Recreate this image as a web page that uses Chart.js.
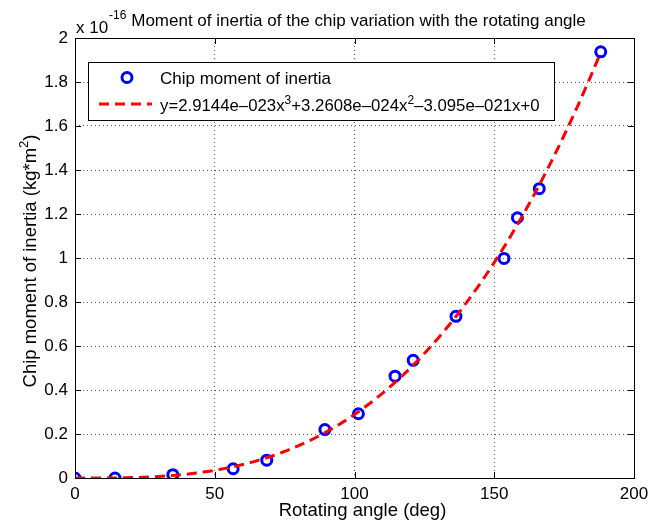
<!DOCTYPE html>
<html>
<head>
<meta charset="utf-8">
<script src="https://cdn.jsdelivr.net/npm/chart.js@4.4.1/dist/chart.umd.min.js"></script>
<style>
  html, body { margin: 0; padding: 0; background: #fff; }
  canvas { display: block; }
</style>
</head>
<body>
<canvas id="inertiaChart" width="664" height="524"></canvas>
<script>
// measured chip moment of inertia (units of 1e-16 kg*m^2) vs rotating angle (deg)
const angles = [0, 14.3, 35.0, 56.6, 68.6, 89.4, 101.4, 114.5, 121.0, 136.3, 153.5, 158.3, 166.1, 188.1];
const inertia = [0, 0, 0.015, 0.042, 0.081, 0.22, 0.292, 0.463, 0.535, 0.735, 0.998, 1.183, 1.315, 1.937];

// cubic fit coefficients (x^3, x^2, x, 1) in kg*m^2
const fitCoef = [2.9144e-23, 3.2608e-24, -3.095e-21, 0];
const yExponent = -16;

const xTicks = [0, 50, 100, 150, 200];
const yTicks = [0, 0.2, 0.4, 0.6, 0.8, 1, 1.2, 1.4, 1.6, 1.8, 2];

const FONT = '"Liberation Sans", Arial, Helvetica, sans-serif';

// evaluate the fitted polynomial over the measured range, scaled like the axis
const fitLine = [];
const xLast = angles[angles.length - 1];
for (let x = 0; x <= xLast; x += 2) {
  fitLine.push({x: x, y: polyVal(x)});
}
fitLine.push({x: xLast, y: polyVal(xLast)});

function polyVal(x) {
  const v = fitCoef[0] * x * x * x + fitCoef[1] * x * x + fitCoef[2] * x + fitCoef[3];
  return v / Math.pow(10, yExponent);
}

const points = angles.map((a, i) => ({x: a, y: inertia[i]}));

// text with an optional superscript piece, drawn left to right from x
function drawRich(ctx, parts, x, y, size) {
  for (const p of parts) {
    if (p.sup) {
      ctx.font = Math.round(size * 0.7) + 'px ' + FONT;
      ctx.fillText(p.sup, x, y - size * 0.42);
      x += ctx.measureText(p.sup).width;
    } else {
      ctx.font = size + 'px ' + FONT;
      ctx.fillText(p.t, x, y);
      x += ctx.measureText(p.t).width;
    }
  }
  return x;
}
function richWidth(ctx, parts, size) {
  let w = 0;
  for (const p of parts) {
    ctx.font = (p.sup ? Math.round(size * 0.7) : size) + 'px ' + FONT;
    w += ctx.measureText(p.sup || p.t).width;
  }
  return w;
}

const matlabFrame = {
  id: 'matlabFrame',
  afterDatasetsDraw(chart) {
    const {ctx, chartArea: a, scales} = chart;
    ctx.save();
    ctx.strokeStyle = '#000';
    ctx.lineWidth = 1;
    // box
    ctx.strokeRect(Math.round(a.left) + 0.5, Math.round(a.top) + 0.5,
      Math.round(a.right - a.left), Math.round(a.bottom - a.top));
    // inward ticks on all four sides
    const tl = 6;
    ctx.beginPath();
    xTicks.forEach(v => {
      const px = Math.round(scales.x.getPixelForValue(v)) + 0.5;
      ctx.moveTo(px, a.bottom); ctx.lineTo(px, a.bottom - tl);
      ctx.moveTo(px, a.top); ctx.lineTo(px, a.top + tl);
    });
    yTicks.forEach(v => {
      const py = Math.round(scales.y.getPixelForValue(v)) + 0.5;
      ctx.moveTo(a.left, py); ctx.lineTo(a.left + tl, py);
      ctx.moveTo(a.right, py); ctx.lineTo(a.right - tl, py);
    });
    ctx.stroke();
    ctx.restore();
  },
  afterDraw(chart) {
    const {ctx, chartArea: a} = chart;
    ctx.save();
    ctx.fillStyle = '#000';
    ctx.textBaseline = 'alphabetic';

    // title
    ctx.font = '17px ' + FONT;
    ctx.textAlign = 'center';
    ctx.fillText('Moment of inertia of the chip variation with the rotating angle',
      (a.left + a.right) / 2 + 4, 26);

    // axis exponent
    ctx.textAlign = 'left';
    drawRich(ctx, [{t: 'x 10'}], 76, 33, 17);
    ctx.font = '12px ' + FONT;
    ctx.fillText(String(yExponent), 109, 19);

    // x axis title
    ctx.font = '18.5px ' + FONT;
    ctx.textAlign = 'center';
    ctx.fillText('Rotating angle (deg)', (a.left + a.right) / 2 + 8, 516);

    // y axis title (rotated)
    const yParts = [{t: 'Chip moment of inertia (kg*m'}, {sup: '2'}, {t: ')'}];
    const yw = richWidth(ctx, yParts, 18.5);
    ctx.save();
    ctx.translate(36, 261);
    ctx.rotate(-Math.PI / 2);
    ctx.textAlign = 'left';
    drawRich(ctx, yParts, -yw / 2, 0, 18.5);
    ctx.restore();

    // legend
    const lx = 88.5, ly = 62.5, lw = 466, lh = 58;
    ctx.fillStyle = '#fff';
    ctx.fillRect(lx, ly, lw, lh);
    ctx.strokeStyle = '#000';
    ctx.lineWidth = 1;
    ctx.strokeRect(lx, ly, lw, lh);

    ctx.strokeStyle = '#0000ff';
    ctx.lineWidth = 3;
    ctx.beginPath();
    ctx.arc(127, 77.5, 5, 0, Math.PI * 2);
    ctx.stroke();

    ctx.strokeStyle = '#ff0000';
    ctx.setLineDash([10, 6]);
    ctx.beginPath();
    ctx.moveTo(99, 104); ctx.lineTo(152, 104);
    ctx.stroke();
    ctx.setLineDash([]);

    ctx.fillStyle = '#000';
    ctx.textAlign = 'left';
    drawRich(ctx, [{t: 'Chip moment of inertia'}], 160, 84, 17);
    drawRich(ctx, [
      {t: 'y=2.9144e\u2013023x'}, {sup: '3'},
      {t: '+3.2608e\u2013024x'}, {sup: '2'},
      {t: '\u20133.095e\u2013021x+0'}
    ], 160, 111, 16.8);
    ctx.restore();
  }
};

new Chart(document.getElementById('inertiaChart'), {
  type: 'scatter',
  data: {
    datasets: [
      {
        label: 'fit',
        data: fitLine,
        showLine: true,
        borderColor: '#ff0000',
        borderWidth: 3,
        borderDash: [10, 6],
        pointRadius: 0,
        fill: false,
        tension: 0
      },
      {
        label: 'Chip moment of inertia',
        data: points,
        showLine: false,
        pointStyle: 'circle',
        pointRadius: 5,
        pointBorderWidth: 3,
        pointBorderColor: '#0000ff',
        pointBackgroundColor: 'rgba(0,0,0,0)'
      }
    ]
  },
  options: {
    responsive: false,
    animation: false,
    devicePixelRatio: 1,
    layout: { padding: { top: 38, right: 30, left: 0, bottom: 0 } },
    plugins: {
      legend: { display: false },
      tooltip: { enabled: false }
    },
    scales: {
      x: {
        type: 'linear',
        min: 0, max: 200,
        afterBuildTicks: s => { s.ticks = xTicks.map(v => ({value: v})); },
        afterFit: s => { s.height = 46; },
        ticks: {
          color: '#000',
          padding: 6,
          font: { family: FONT, size: 17 },
          maxRotation: 0
        },
        grid: {
          color: ctx => (ctx.tick && (ctx.tick.value === 0 || ctx.tick.value === 200)) ? 'rgba(0,0,0,0)' : 'rgba(0,0,0,0.65)',
          drawTicks: false,
          lineWidth: 1
        },
        border: { display: false, dash: [1, 3] }
      },
      y: {
        type: 'linear',
        min: 0, max: 2,
        afterBuildTicks: s => { s.ticks = yTicks.map(v => ({value: v})); },
        afterFit: s => { s.width = 75; },
        ticks: {
          color: '#000',
          padding: 7,
          font: { family: FONT, size: 17 },
          callback: v => String(+v.toFixed(1))
        },
        grid: {
          color: ctx => (ctx.tick && (ctx.tick.value === 0 || ctx.tick.value === 2)) ? 'rgba(0,0,0,0)' : 'rgba(0,0,0,0.65)',
          drawTicks: false,
          lineWidth: 1
        },
        border: { display: false, dash: [1, 3] }
      }
    }
  },
  plugins: [matlabFrame]
});
</script>
</body>
</html>
